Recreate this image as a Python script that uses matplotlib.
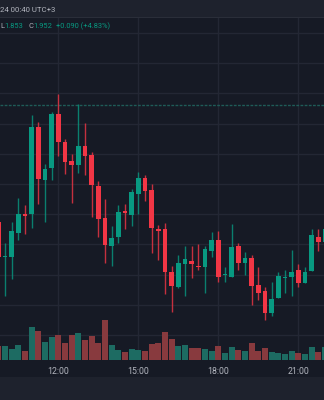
import matplotlib
matplotlib.use("Agg")
import matplotlib.pyplot as plt
from matplotlib import font_manager
from matplotlib.patches import Rectangle
import numpy as np
import pandas as pd

# 15-minute candles, first one is only half visible on the left edge
times = pd.date_range("2024-03-14 09:45", periods=50, freq="15min")
opens = [2.078, 2.043, 2.043, 2.067, 2.086, 2.086, 2.173, 2.120, 2.132, 2.186,
         2.158, 2.139, 2.135, 2.154, 2.145, 2.114, 2.082, 2.054, 2.063, 2.089,
         2.085, 2.106, 2.122, 2.110, 2.071, 2.071, 2.028, 2.013, 2.036, 2.039,
         2.034, 2.033, 2.049, 2.060, 2.025, 2.023, 2.054, 2.037, 2.042, 2.015,
         2.009, 1.987, 2.002, 2.022, 2.023, 2.030, 2.017, 2.029, 2.063, 2.058]
highs = [2.085, 2.057, 2.078, 2.102, 2.095, 2.185, 2.178, 2.136, 2.188, 2.206,
         2.161, 2.146, 2.196, 2.177, 2.148, 2.119, 2.101, 2.074, 2.095, 2.096,
         2.111, 2.128, 2.125, 2.116, 2.075, 2.077, 2.034, 2.045, 2.054, 2.054,
         2.056, 2.054, 2.068, 2.069, 2.033, 2.076, 2.057, 2.048, 2.045, 2.033,
         2.013, 2.018, 2.028, 2.030, 2.050, 2.036, 2.033, 2.071, 2.071, 2.075]
lows = [2.038, 2.004, 2.021, 2.060, 2.066, 2.072, 2.096, 2.078, 2.120, 2.144,
        2.126, 2.097, 2.127, 2.125, 2.083, 2.063, 2.037, 2.034, 2.057, 2.071,
        2.074, 2.086, 2.099, 2.047, 2.040, 2.006, 1.988, 2.012, 2.004, 2.022,
        2.030, 2.007, 2.043, 2.018, 2.018, 2.023, 2.030, 2.025, 1.995, 2.000,
        1.980, 1.984, 2.002, 2.007, 2.004, 2.013, 2.017, 2.029, 2.049, 2.055]
closes = [2.043, 2.044, 2.069, 2.086, 2.084, 2.173, 2.121, 2.131, 2.186, 2.158,
          2.138, 2.135, 2.154, 2.144, 2.115, 2.081, 2.055, 2.062, 2.088, 2.087,
          2.108, 2.122, 2.109, 2.072, 2.069, 2.028, 2.014, 2.037, 2.041, 2.036,
          2.033, 2.051, 2.060, 2.023, 2.026, 2.053, 2.037, 2.042, 2.014, 2.007,
          1.987, 2.001, 2.024, 2.023, 2.028, 2.017, 2.028, 2.065, 2.058, 2.071]
volumes = [143, 140, 113, 150, 87, 330, 287, 180, 230, 253,
           170, 253, 273, 197, 243, 167, 403, 150, 100, 80,
           107, 100, 90, 160, 170, 280, 210, 140, 150, 117,
           120, 110, 90, 140, 67, 130, 100, 90, 170, 90,
           120, 77, 70, 57, 90, 67, 57, 130, 80, 130]
ref_price = 2.195
header = "24 00:40 UTC+3"
# (text, colour, gap in px before it)
legend_items = [("L", "#b2b5be", 0.3), ("1.853", "#089981", 0.5), ("C", "#b2b5be", 4.5),
                ("1.952", "#089981", 0.5), ("+0.090 (+4.83%)", "#089981", 4.0)]

BG = "#161a25"
PANEL = "#1e222d"
GRID = "#232734"
UP, DOWN = "#089981", "#f23645"
UP_VOL, DOWN_VOL = "#1d6b62", "#883a3e"
TXT = "#b2b5be"

installed = {f.name for f in font_manager.fontManager.ttflist}
family = "Liberation Sans Narrow" if "Liberation Sans Narrow" in installed else "Roboto"
plt.rcParams["font.family"] = family

W, H = 324, 400
fig = plt.figure(figsize=(W / 100, H / 100), dpi=100, facecolor=BG)

# header strip and bottom strip
fig.patches.append(Rectangle((0, 1 - 16.5 / H), 1, 16.5 / H, transform=fig.transFigure,
                             facecolor=PANEL, edgecolor="none", zorder=0))
fig.patches.append(Rectangle((0, 1 - 17.5 / H), 1, 1 / H, transform=fig.transFigure,
                             facecolor="#2a2e39", edgecolor="none", zorder=0))
fig.patches.append(Rectangle((0, 0), 1, 23 / H, transform=fig.transFigure,
                             facecolor=PANEL, edgecolor="none", zorder=0))

rect = [0, 40 / H, 1, 343 / H]
ax = fig.add_axes(rect, facecolor=BG)
axv = fig.add_axes(rect, facecolor="none", sharex=ax)

x = np.arange(len(times))
o, hi, lo, c = map(np.array, (opens, highs, lows, closes))
up = c >= o
col = np.where(up, UP, DOWN)

# grid
ax.set_ylim(1.940, 2.283)
ax.set_yticks(1.965 + 0.0302 * np.arange(11))
tick_idx = [i for i, t in enumerate(times) if t.minute == 0 and t.hour % 3 == 0]
ax.set_xticks(tick_idx)
ax.set_xticklabels([times[i].strftime("%H:%M") for i in tick_idx])
ax.set_xlim(0.25, 48.85)
ax.grid(True, color=GRID, lw=1)
ax.set_axisbelow(True)
ax.tick_params(axis="x", length=0, pad=5, labelsize=6.3, colors=TXT)
ax.tick_params(axis="y", length=0, labelleft=False)
for s in ax.spines.values():
    s.set_visible(False)

ax.axhline(ref_price, color="#1f5c58", lw=1, ls=(0, (2, 1)), zorder=1)

# candles
ax.vlines(x, lo, hi, colors=col, lw=1, alpha=0.8, zorder=2)
body = np.maximum(np.abs(c - o), 0.0012)
ax.bar(x, body, bottom=np.minimum(o, c), width=0.7, color=col, zorder=3)

# volume overlay
axv.bar(x, volumes, width=0.86, color=np.where(up, UP_VOL, DOWN_VOL), zorder=1)
axv.set_ylim(0, 3430)
axv.axis("off")

fig.text(0.5 / W, 1 - 9.5 / H, header, color=TXT, fontsize=5.6, va="center", ha="left")

# legend row: place pieces one after another
renderer = fig.canvas.get_renderer()
cur = 0.0
for s, cc, gap in legend_items:
    cur += gap
    t = fig.text(cur / W, 1 - 26.8 / H, s, color=cc, fontsize=5.4, va="center", ha="left")
    cur += t.get_window_extent(renderer).width

fig.savefig("out.png", dpi=100, facecolor=BG)
